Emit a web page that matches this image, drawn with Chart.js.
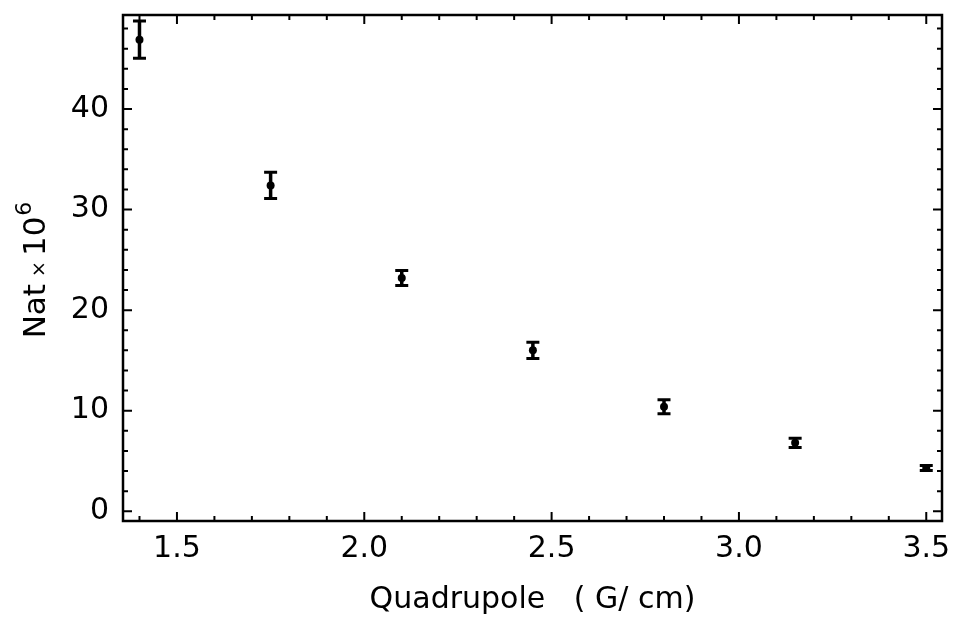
<!DOCTYPE html>
<html>
<head>
<meta charset="utf-8">
<script src="https://cdn.jsdelivr.net/npm/chart.js@4.4.1/dist/chart.umd.min.js"></script>
<style>
  html, body { margin: 0; padding: 0; background: #fff; }
  #wrap { width: 953px; height: 621px; }
</style>
</head>
<body>
<div id="wrap"><canvas id="natChart"></canvas></div>
<script>
// quadrupole gradient (G/cm) vs atom number (x 10^6)
var gradient = [1.4, 1.75, 2.1, 2.45, 2.8, 3.15, 3.5];
var atoms = [46.9, 32.4, 23.2, 16.0, 10.4, 6.8, 4.3];
var atomsErr = [1.85, 1.3, 0.75, 0.8, 0.7, 0.45, 0.25];

var xTicks = [1.5, 2.0, 2.5, 3.0, 3.5];
var yTicks = [0, 10, 20, 30, 40];

var FONT = "'DejaVu Sans', sans-serif";
Chart.defaults.font.family = FONT;
Chart.defaults.font.size = 30;
Chart.defaults.color = '#000';

var points = gradient.map(function (g, i) {
  return { x: g, y: atoms[i], err: atomsErr[i] };
});

// vertical error bars with caps
var errorBars = {
  id: 'errorBars',
  afterDatasetsDraw: function (chart) {
    var ctx = chart.ctx, xs = chart.scales.x, ys = chart.scales.y;
    ctx.save();
    ctx.strokeStyle = '#000';
    chart.data.datasets[0].data.forEach(function (p) {
      var px = xs.getPixelForValue(p.x);
      var top = ys.getPixelForValue(p.y + p.err);
      var bot = ys.getPixelForValue(p.y - p.err);
      ctx.lineWidth = 3.5;
      ctx.beginPath();
      ctx.moveTo(px, top); ctx.lineTo(px, bot);
      ctx.stroke();
      ctx.lineWidth = 3;
      ctx.beginPath();
      ctx.moveTo(px - 6.5, top); ctx.lineTo(px + 6.5, top);
      ctx.moveTo(px - 6.5, bot); ctx.lineTo(px + 6.5, bot);
      ctx.stroke();
    });
    ctx.restore();
  }
};

// box frame + inward major/minor ticks on all four sides
var frameTicks = {
  id: 'frameTicks',
  afterDraw: function (chart) {
    var ctx = chart.ctx, a = chart.chartArea;
    var xs = chart.scales.x, ys = chart.scales.y;
    ctx.save();
    ctx.strokeStyle = '#000';
    ctx.lineWidth = 2;
    ctx.beginPath();
    function xt(v, len) {
      var px = xs.getPixelForValue(v);
      ctx.moveTo(px, a.bottom); ctx.lineTo(px, a.bottom - len);
      ctx.moveTo(px, a.top); ctx.lineTo(px, a.top + len);
    }
    function yt(v, len) {
      var py = ys.getPixelForValue(v);
      ctx.moveTo(a.left, py); ctx.lineTo(a.left + len, py);
      ctx.moveTo(a.right, py); ctx.lineTo(a.right - len, py);
    }
    var v;
    for (v = Math.ceil(xs.min * 10); v <= xs.max * 10; v++) {
      xt(v / 10, v % 5 === 0 ? 9 : 5);
    }
    for (v = Math.ceil(ys.min / 2) * 2; v <= ys.max; v += 2) {
      yt(v, v % 10 === 0 ? 9 : 5);
    }
    ctx.stroke();
    ctx.lineWidth = 2.5;
    ctx.strokeRect(a.left, a.top, a.right - a.left, a.bottom - a.top);
    ctx.restore();
  }
};

// y-axis title with a real superscript exponent
var yTitle = {
  id: 'yTitle',
  afterDraw: function (chart) {
    var ctx = chart.ctx, a = chart.chartArea;
    var parts = [
      { t: 'Nat', size: 31, rise: 0, gap: 7 },
      { t: '\u00d7', size: 19, rise: 0, gap: 5 },
      { t: '10', size: 31, rise: 0, gap: 1 },
      { t: '6', size: 22, rise: 14, gap: 0 }
    ];
    ctx.save();
    var total = 0;
    parts.forEach(function (p) {
      ctx.font = p.size + 'px ' + FONT;
      p.w = ctx.measureText(p.t).width;
      total += p.w + p.gap;
    });
    ctx.translate(45, (a.top + a.bottom) / 2 + 2);
    ctx.rotate(-Math.PI / 2);
    ctx.fillStyle = '#000';
    ctx.textBaseline = 'alphabetic';
    var x = -total / 2;
    parts.forEach(function (p) {
      ctx.font = p.size + 'px ' + FONT;
      ctx.fillText(p.t, x, -p.rise);
      x += p.w + p.gap;
    });
    ctx.restore();
  }
};

new Chart(document.getElementById('natChart'), {
  type: 'scatter',
  data: {
    datasets: [{
      data: points,
      backgroundColor: '#000',
      borderColor: '#000',
      borderWidth: 0,
      pointRadius: 4,
      pointHoverRadius: 4
    }]
  },
  options: {
    responsive: true,
    maintainAspectRatio: false,
    animation: false,
    layout: { padding: { top: 15, right: 11, left: 0, bottom: 0 } },
    plugins: { legend: { display: false }, tooltip: { enabled: false } },
    scales: {
      x: {
        type: 'linear',
        min: 1.356,
        max: 3.542,
        grid: { display: false, drawTicks: false },
        border: { display: false },
        afterBuildTicks: function (s) { s.ticks = xTicks.map(function (v) { return { value: v }; }); },
        afterFit: function (s) {
          s.height = 100;
          s.paddingLeft = 0;
          s.paddingRight = 0;
        },
        ticks: {
          autoSkip: false,
          maxRotation: 0,
          padding: 10,
          callback: function (v) { return v.toFixed(1); }
        },
        title: {
          display: true,
          text: 'Quadrupole   ( G/ cm)',
          padding: { top: 0, bottom: 3 }
        }
      },
      y: {
        min: -0.97,
        max: 49.35,
        grid: { display: false, drawTicks: false },
        border: { display: false },
        afterBuildTicks: function (s) { s.ticks = yTicks.map(function (v) { return { value: v }; }); },
        afterFit: function (s) {
          s.width = 123;
          s.paddingTop = 0;
          s.paddingBottom = 0;
        },
        ticks: { padding: 14 },
        title: { display: false }
      }
    }
  },
  plugins: [errorBars, frameTicks, yTitle]
});
</script>
</body>
</html>
